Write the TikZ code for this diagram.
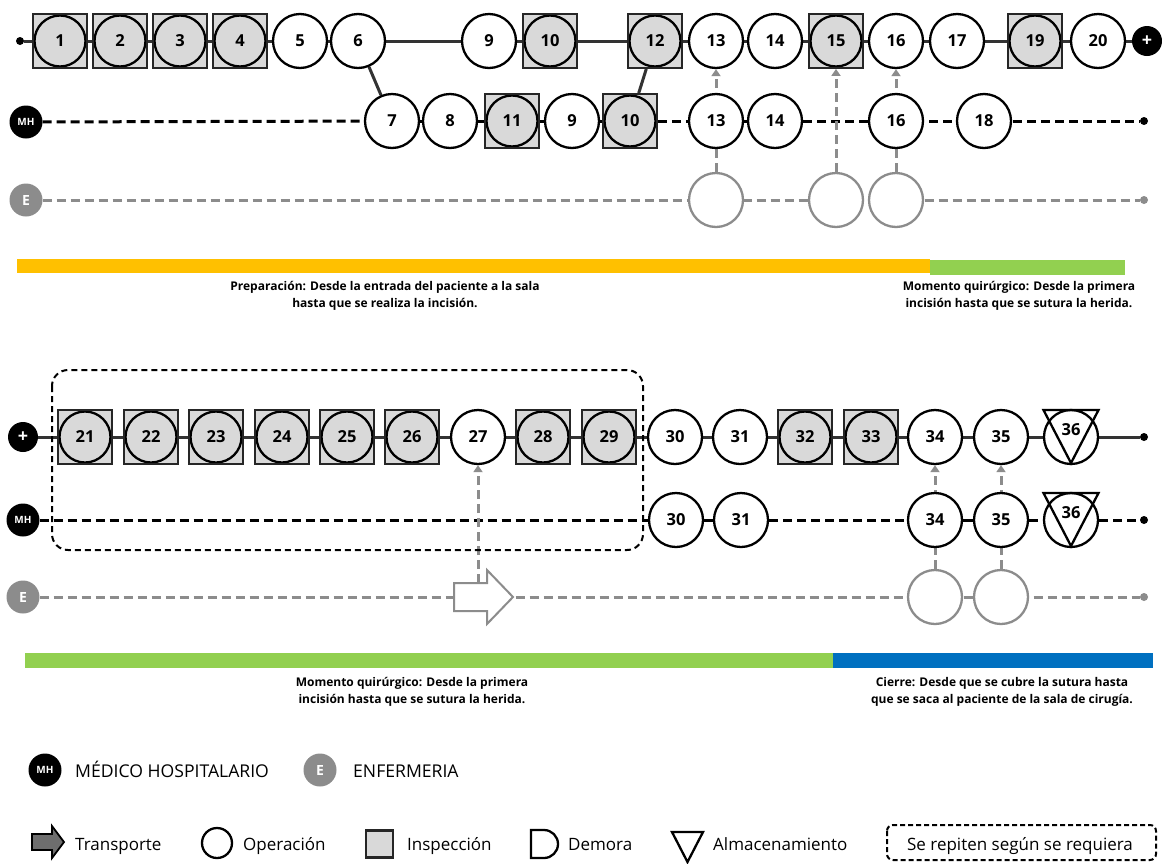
\documentclass[tikz,border=0pt]{standalone}
\usepackage{fontspec}
\setmainfont{Open Sans}
\usetikzlibrary{backgrounds,arrows.meta}

\definecolor{lineblk}{HTML}{333333}
\definecolor{egray}{HTML}{8C8C8C}
\definecolor{inspgray}{HTML}{D9D9D9}
\definecolor{prepyellow}{HTML}{FFC000}
\definecolor{surggreen}{HTML}{92D050}
\definecolor{closeblue}{HTML}{0070C0}
\definecolor{transgray}{HTML}{6E6E6E}

\tikzset{
  num/.style={font=\fontsize{16.5}{16.5}\selectfont\bfseries},
  opnode/.style={circle, draw=black, line width=2.3pt, fill=white,
    minimum size=54pt, inner sep=0pt, num},
  inspnode/.style={rectangle, draw=black!85, line width=2.3pt, fill=inspgray,
    minimum size=53.5pt, inner sep=0pt, num,
    path picture={\draw[black, line width=2.3pt]
      (path picture bounding box.center) circle (25.5pt);}},
  enode/.style={circle, draw=egray, line width=2.3pt, fill=white,
    minimum size=54pt, inner sep=0pt},
  enddot/.style={circle, fill=#1, minimum size=8pt, inner sep=0pt},
  plusdot/.style={circle, fill=black, text=white, minimum size=30pt,
    inner sep=0pt, font=\fontsize{18}{18}\selectfont\bfseries},
  mhdot/.style={circle, fill=black, text=white, minimum size=33pt,
    inner sep=0pt, font=\fontsize{10}{10}\selectfont\bfseries},
  edot/.style={circle, fill=egray, text=white, minimum size=33pt,
    inner sep=0pt, font=\fontsize{14}{14}\selectfont\bfseries},
  flow/.style={draw=lineblk, line width=3pt},
  mhsolid/.style={draw=black, line width=3pt},
  mhline/.style={draw=black, line width=3pt, dash pattern=on 9pt off 5pt},
  eline/.style={draw=egray, line width=3pt, dash pattern=on 9pt off 5pt},
  handoff/.style={draw=egray, line width=3pt, dash pattern=on 9pt off 5pt,
    -{Triangle[width=9pt,length=7pt]}},
  phasecap/.style={font=\fontsize{12}{17}\selectfont\bfseries,
    align=center, inner sep=0pt},
  legtext/.style={font=\fontsize{17}{17}\selectfont, anchor=base west,
    inner sep=0pt},
  repeatbox/.style={draw=black, line width=2pt, dash pattern=on 6pt off 4pt,
    rounded corners=16pt},
  trianglemark/.style={draw=black, line width=2.3pt, line join=miter},
}

\begin{document}
\begin{tikzpicture}[x=1pt, y=-1pt]
\useasboundingbox (0,0) rectangle (1162,863);
\begin{scope}[on background layer]
  \fill[white] (0,0) rectangle (1162,863);
\end{scope}

% ================= Preparation panel =================
% main flow row
\node[enddot=black] (s1) at (20,41) {};
\node[inspnode] (a1) at (60,41) {1};
\node[inspnode] (a2) at (120,41) {2};
\node[inspnode] (a3) at (180,41) {3};
\node[inspnode] (a4) at (240,41) {4};
\node[opnode] (a5) at (300,41) {5};
\node[opnode] (a6) at (358,41) {6};
\node[opnode] (a9) at (489,41) {9};
\node[inspnode] (a10) at (550,41) {10};
\node[inspnode] (a12) at (655,41) {12};
\node[opnode] (a13) at (716,41) {13};
\node[opnode] (a14) at (775,41) {14};
\node[inspnode] (a15) at (836,41) {15};
\node[opnode] (a16) at (896,41) {16};
\node[opnode] (a17) at (957,41) {17};
\node[inspnode] (a19) at (1035,41) {19};
\node[opnode] (a20) at (1098,41) {20};
\node[plusdot] (p1) at (1147,41) {+};

% physician row
\node[mhdot] (mh1) at (26,122) {MH};
\node[opnode] (m7) at (392,121) {7};
\node[opnode] (m8) at (450,121) {8};
\node[inspnode] (m11) at (512,121) {11};
\node[opnode] (m9) at (572,121) {9};
\node[inspnode] (m10) at (630,121) {10};
\node[opnode] (m13) at (716,121) {13};
\node[opnode] (m14) at (775,121) {14};
\node[opnode] (m16) at (896,121) {16};
\node[opnode] (m18) at (984,121) {18};
\node[enddot=black] (mend1) at (1144,121) {};

% nursing row
\node[edot] (e1) at (26,200) {E};
\node[enode] (e13) at (716,200) {};
\node[enode] (e15) at (836,200) {};
\node[enode] (e16) at (896,200) {};
\node[enddot=egray] (eend1) at (1144,200) {};

\begin{scope}[on background layer]
  \draw[flow] (s1) -- (p1);
  \draw[flow] (a6) -- (m7);
  \draw[flow] (a12) -- (m10);
  \draw[mhline] (mh1) -- (m7);
  \draw[mhsolid] (m7) -- (m10);
  \draw[mhline] (m10) -- (m13);
  \draw[mhsolid] (m13) -- (m14);
  \draw[mhline] (m14) -- (mend1);
  \draw[eline] (e1) -- (eend1);
  \draw[handoff] (e13) -- (a13);
  \draw[handoff] (e15) -- (a15);
  \draw[handoff] (e16) -- (a16);
\end{scope}

% phase bars
\fill[prepyellow] (17,259) rectangle (930,273);
\fill[surggreen] (930,260) rectangle (1125,275);
\node[phasecap] (cap1) at (385,296)
  {Preparación: Desde la entrada del paciente a la sala\\hasta que se realiza la incisión.};
\node[phasecap] (cap2) at (1019,296)
  {Momento quirúrgico: Desde la primera\\incisión hasta que se sutura la herida.};

% ================= Surgery / closure panel =================
\draw[repeatbox] (52,370) rectangle (643,550);

\node[plusdot] (p2) at (23,437) {+};
\node[inspnode] (b21) at (85,437) {21};
\node[inspnode] (b22) at (151,437) {22};
\node[inspnode] (b23) at (216,437) {23};
\node[inspnode] (b24) at (282,437) {24};
\node[inspnode] (b25) at (347,437) {25};
\node[inspnode] (b26) at (412,437) {26};
\node[opnode] (b27) at (478,437) {27};
\node[inspnode] (b28) at (543,437) {28};
\node[inspnode] (b29) at (609,437) {29};
\node[opnode] (b30) at (675,437) {30};
\node[opnode] (b31) at (740,437) {31};
\node[inspnode] (b32) at (805,437) {32};
\node[inspnode] (b33) at (871,437) {33};
\node[opnode] (b34) at (935,437) {34};
\node[opnode] (b35) at (1001,437) {35};
\node[opnode] (b36) at (1071,437) {};
\draw[trianglemark] (b36.center) ++(-27.5,-27) -- ++(55,0) -- ++(-27.5,53) -- cycle;
\node[num] (b36l) at (1071,430) {36};
\node[enddot=black] (bend) at (1144,437) {};

\node[mhdot] (mh2) at (23,520) {MH};
\node[opnode] (n30) at (676,520) {30};
\node[opnode] (n31) at (741,520) {31};
\node[opnode] (n34) at (935,520) {34};
\node[opnode] (n35) at (1001,520) {35};
\node[opnode] (n36) at (1071,520) {};
\draw[trianglemark] (n36.center) ++(-27.5,-27) -- ++(55,0) -- ++(-27.5,53) -- cycle;
\node[num] (n36l) at (1071,513) {36};
\node[enddot=black] (nend) at (1144,520) {};

\node[edot] (e2) at (23,597) {E};
\node[enode] (f34) at (935,597) {};
\node[enode] (f35) at (1001,597) {};
\node[enddot=egray] (fend) at (1144,597) {};

% transport symbol on the nursing row
\draw[draw=egray, fill=white, line width=2pt, line join=miter]
  (454,583) -- (487,583) -- (487,570) -- (513,597) -- (487,624)
  -- (487,611) -- (454,611) -- cycle;
\coordinate (trtop) at (478,583);

\begin{scope}[on background layer]
  \draw[flow] (p2) -- (bend);
  \draw[mhline] (mh2) -- (n30);
  \draw[mhsolid] (n30) -- (n31);
  \draw[mhline] (n31) -- (n34);
  \draw[mhsolid] (n34) -- (n35);
  \draw[mhline] (n35) -- (n36);
  \draw[mhline] (n36) -- (nend);
  \draw[eline] (e2) -- (fend);
  \draw[handoff] (trtop) -- (b27);
  \draw[handoff] (f34) -- (b34);
  \draw[handoff] (f35) -- (b35);
\end{scope}

\fill[surggreen] (25,653) rectangle (833,668);
\fill[closeblue] (833,653) rectangle (1153,668);
\node[phasecap] (cap3) at (412,692)
  {Momento quirúrgico: Desde la primera\\incisión hasta que se sutura la herida.};
\node[phasecap] (cap4) at (1002,692)
  {Cierre: Desde que se cubre la sutura hasta\\que se saca al paciente de la sala de cirugía.};

% ================= Legend =================
\node[mhdot] (lgmh) at (45,770) {MH};
\node[legtext, font=\fontsize{17.6}{17.6}\selectfont] (lgmht) at (75,777) {MÉDICO HOSPITALARIO};
\node[edot] (lge) at (320,770) {E};
\node[legtext, font=\fontsize{17.6}{17.6}\selectfont] (lget) at (353,777) {ENFERMERIA};

\draw[draw=black, fill=transgray, line width=1.8pt, line join=miter]
  (32,834) -- (52,834) -- (52,826) -- (64,842) -- (52,858)
  -- (52,850) -- (32,850) -- cycle;
\node[legtext] (lgtr) at (75,850) {Transporte};

\node[circle, draw=black, line width=2.3pt, minimum size=30pt, inner sep=0pt]
  (lgop) at (217,843) {};
\node[legtext] (lgopt) at (243,850) {Operación};

\node[rectangle, draw=black!85, fill=inspgray, line width=2.3pt,
  minimum width=27pt, minimum height=27pt, inner sep=0pt] (lgin) at (379.5,844) {};
\node[legtext] (lgint) at (407,850) {Inspección};

\draw[draw=black, line width=2.3pt, line join=miter]
  (531,830) -- (544,830) arc[start angle=90, end angle=-90, radius=14pt]
  -- (531,858) -- cycle;
\node[legtext] (lgdt) at (568,850) {Demora};

\draw[trianglemark] (672,832) -- (703,832) -- (687.5,862) -- cycle;
\node[legtext] (lgat) at (713,850) {Almacenamiento};

\draw[draw=black, line width=2pt, dash pattern=on 5pt off 3pt, rounded corners=6pt]
  (887,825) rectangle (1156,860);
\node[font=\fontsize{17}{17}\selectfont, anchor=base, inner sep=0pt]
  (lgrep) at (1020,850) {Se repiten según se requiera};

\end{tikzpicture}
\end{document}
